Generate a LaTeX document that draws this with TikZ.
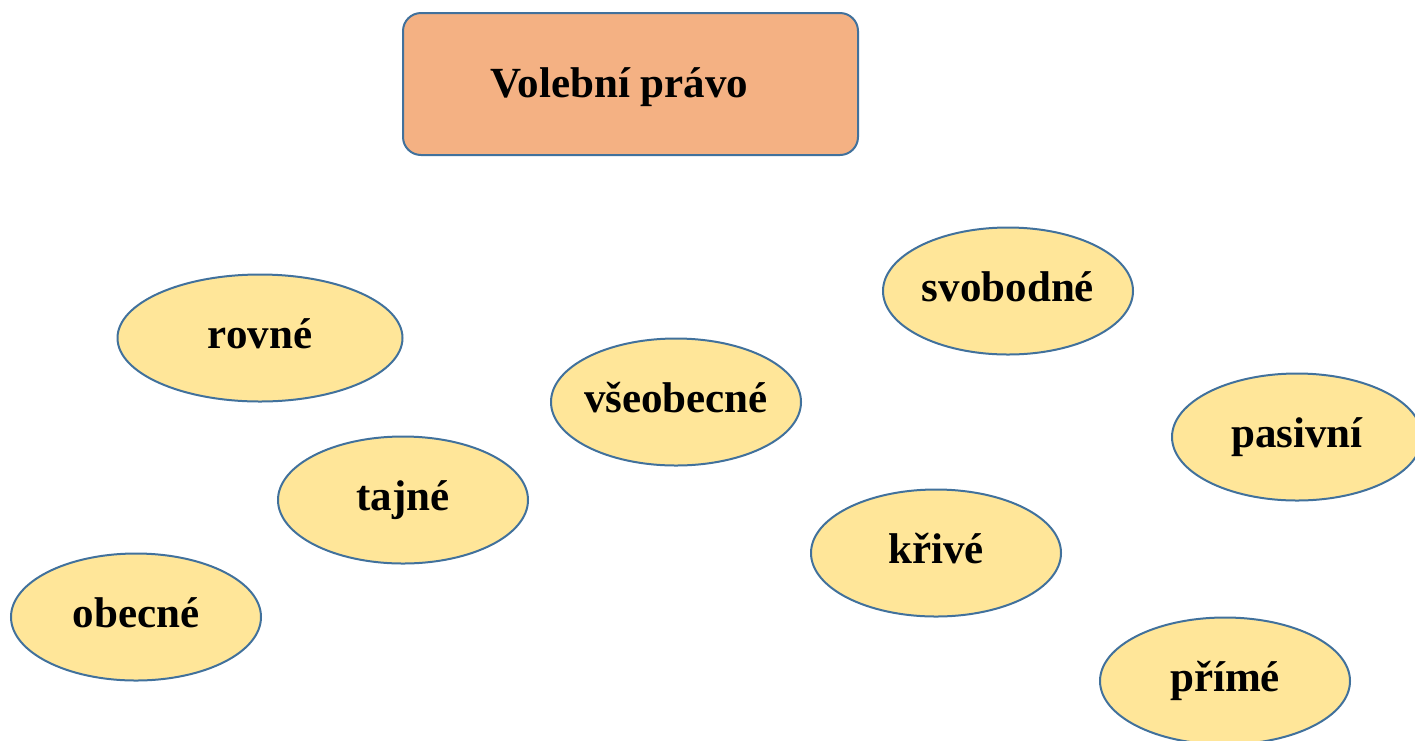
\documentclass[tikz,border=0pt]{standalone}
\usepackage{fontspec}
\setmainfont{Liberation Serif}
\usetikzlibrary{shapes.geometric}

\definecolor{titlefill}{HTML}{F4B183}
\definecolor{ovalfill}{HTML}{FFE699}
\definecolor{edgeblue}{HTML}{41719C}

\begin{document}
\begin{tikzpicture}[x=1pt,y=-1pt]

\tikzstyle{title}=[rectangle,rounded corners=18pt,draw=edgeblue,line width=2pt,fill=titlefill,minimum width=455pt,minimum height=142pt,text height=31pt,text depth=5pt,font=\fontsize{43}{50}\selectfont\bfseries]
\tikzstyle{oval}=[ellipse,draw=edgeblue,line width=2pt,fill=ovalfill,inner ysep=0pt,inner xsep=-12pt,minimum width=250pt,minimum height=127pt,text height=30pt,text depth=10pt,font=\fontsize{43}{50}\selectfont\bfseries]

\useasboundingbox (0,0) rectangle (1415,740) ;

\node[title] (pravo) at (630.5,84) {\hspace*{-22pt}Volební právo} ;

\node[oval,minimum width=285pt] (rovne) at (260,338) {rovné} ;
\node[oval] (tajne)     at (403,500)  {tajné} ;
\node[oval] (obecne)    at (136,617)  {obecné} ;
\node[oval] (vseobecne) at (676,402)  {všeobecné} ;
\node[oval] (svobodne)  at (1008,291) {svobodné} ;
\node[oval] (krive)     at (936,553)  {křivé} ;
\node[oval] (pasivni)   at (1297,437) {pasivní} ;
\node[oval] (prime)     at (1225,681) {přímé} ;

\end{tikzpicture}
\end{document}
